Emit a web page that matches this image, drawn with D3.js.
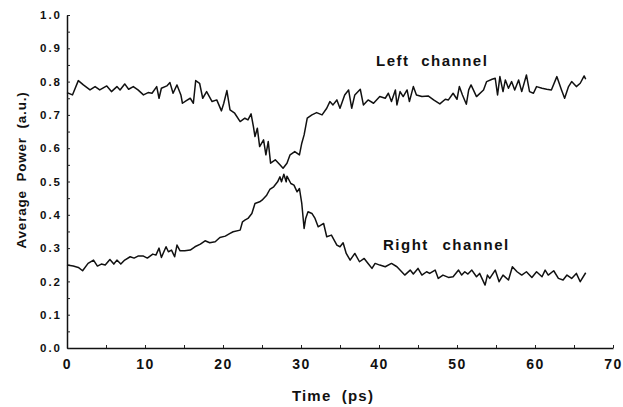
<!DOCTYPE html>
<meta charset="utf-8">
<style>
    body { margin: 0; background: #fff; }
    .chart text {
        font-family: "Liberation Sans", Arial, sans-serif;
        font-weight: bold;
        fill: #111;
    }
    .line { fill: none; stroke: #111; stroke-width: 1.5; stroke-linejoin: round; }
</style>
<svg class="chart" width="623" height="407"></svg>
<script src="https://cdn.jsdelivr.net/npm/d3@7"></script>
<script>
    // values (time in ps, average power in a.u.)
    const leftTime = [0, 0.7, 1.45, 2.1, 2.95, 3.6, 4.2, 5.1, 5.7, 6.4, 6.8, 7.4, 7.9, 8.5, 9.1, 9.8,
        10.4, 10.9, 11.5, 11.8, 12.1, 12.8, 13.2, 13.6, 14.1, 14.6, 14.8, 15.3, 15.8, 16.2, 16.5, 17.0,
        17.4, 17.9, 18.6, 19.2, 19.8, 20.1, 20.5, 20.9, 21.5, 22.2, 22.8, 23.2, 23.6, 23.9, 24.1, 24.4,
        24.7, 25.2, 25.5, 25.8, 26.1, 26.7, 27.3, 27.7, 28.2, 28.6, 29.2, 29.8, 30.1, 30.4, 30.8, 31.4,
        32.0, 32.7, 33.3, 33.7, 34.1, 34.6, 35.0, 35.6, 36.1, 36.5, 36.9, 37.6, 38.0, 38.6, 39.3, 40.1,
        40.8, 41.2, 41.6, 42.1, 42.3, 42.7, 43.1, 43.6, 43.9, 44.4, 44.8, 45.5, 46.3, 47.0, 47.8, 48.5,
        48.9, 49.5, 50.0, 50.3, 50.7, 51.2, 51.5, 51.8, 52.5, 53.4, 53.8, 54.5, 54.9, 55.2, 55.5, 55.9,
        56.2, 56.6, 57.0, 57.4, 57.9, 58.3, 58.9, 59.3, 59.8, 60.2, 60.9, 61.5, 62.1, 62.8, 63.4, 63.8,
        64.3, 64.7, 65.3, 65.8, 66.3, 66.5];
    const leftPower = [0.767, 0.760, 0.803, 0.790, 0.775, 0.785, 0.775, 0.787, 0.770, 0.785, 0.775, 0.793, 0.777, 0.785, 0.775, 0.760,
        0.767, 0.765, 0.785, 0.750, 0.780, 0.787, 0.797, 0.765, 0.790, 0.760, 0.735, 0.743, 0.750, 0.735, 0.803, 0.795,
        0.750, 0.770, 0.740, 0.745, 0.712, 0.735, 0.773, 0.715, 0.705, 0.680, 0.690, 0.685, 0.703, 0.665, 0.635, 0.660,
        0.605, 0.625, 0.580, 0.620, 0.555, 0.565, 0.550, 0.540, 0.555, 0.580, 0.590, 0.580, 0.615, 0.640, 0.690, 0.700,
        0.707, 0.700, 0.720, 0.740, 0.730, 0.745, 0.720, 0.760, 0.775, 0.720, 0.760, 0.777, 0.730, 0.745, 0.735, 0.755,
        0.750, 0.765, 0.740, 0.775, 0.730, 0.770, 0.755, 0.775, 0.740, 0.785, 0.760, 0.755, 0.757, 0.745, 0.733, 0.747,
        0.745, 0.765, 0.747, 0.785, 0.760, 0.732, 0.775, 0.790, 0.755, 0.775, 0.800, 0.807, 0.810, 0.760, 0.815, 0.770,
        0.805, 0.780, 0.800, 0.775, 0.805, 0.770, 0.820, 0.770, 0.765, 0.785, 0.780, 0.777, 0.775, 0.815, 0.775, 0.750,
        0.785, 0.800, 0.785, 0.795, 0.817, 0.807];

    const rightTime = [0, 0.8, 1.45, 2.0, 2.7, 3.4, 3.9, 4.4, 4.9, 5.5, 6.0, 6.4, 6.9, 7.4, 8.1, 8.6,
        9.1, 9.8, 10.3, 11.0, 11.4, 11.8, 12.1, 12.7, 13.0, 13.4, 13.8, 14.1, 14.5, 15.1, 15.8, 16.4,
        17.1, 17.7, 18.3, 19.0, 19.6, 20.3, 20.9, 21.3, 22.2, 22.5, 22.8, 23.2, 23.7, 24.1, 24.7, 25.0,
        25.6, 26.0, 26.5, 27.0, 27.3, 27.5, 27.8, 28.1, 28.2, 28.7, 29.1, 29.5, 29.8, 30.1, 30.4, 30.6,
        30.9, 31.4, 31.8, 32.2, 32.9, 33.3, 33.9, 34.6, 35.0, 35.4, 35.8, 36.3, 36.9, 37.5, 38.1, 38.6,
        39.1, 39.5, 40.1, 40.8, 41.6, 42.3, 43.3, 44.0, 44.4, 45.0, 45.5, 46.1, 46.5, 47.2, 47.6, 48.2,
        48.9, 49.5, 50.2, 50.6, 51.0, 51.4, 51.9, 52.5, 52.9, 53.6, 53.9, 54.2, 54.9, 55.4, 55.9, 56.6,
        57.1, 57.7, 58.3, 58.9, 59.6, 60.2, 60.9, 61.3, 61.7, 62.4, 63.0, 63.6, 64.1, 64.7, 65.3, 65.8,
        66.5];
    const rightPower = [0.249, 0.246, 0.242, 0.232, 0.254, 0.264, 0.246, 0.252, 0.249, 0.266, 0.252, 0.264, 0.252, 0.264, 0.274, 0.270,
        0.276, 0.276, 0.270, 0.282, 0.279, 0.300, 0.272, 0.304, 0.289, 0.294, 0.274, 0.309, 0.292, 0.292, 0.294, 0.304,
        0.312, 0.322, 0.316, 0.319, 0.332, 0.336, 0.344, 0.349, 0.354, 0.379, 0.384, 0.389, 0.404, 0.434, 0.439, 0.444,
        0.459, 0.476, 0.484, 0.499, 0.514, 0.499, 0.522, 0.499, 0.516, 0.494, 0.489, 0.469, 0.479, 0.434, 0.359, 0.389,
        0.409, 0.404, 0.389, 0.364, 0.374, 0.334, 0.339, 0.309, 0.304, 0.316, 0.284, 0.264, 0.284, 0.259, 0.269, 0.254,
        0.239, 0.254, 0.249, 0.244, 0.254, 0.244, 0.219, 0.234, 0.222, 0.239, 0.219, 0.229, 0.224, 0.234, 0.209, 0.219,
        0.212, 0.214, 0.234, 0.219, 0.229, 0.222, 0.234, 0.214, 0.224, 0.189, 0.219, 0.209, 0.234, 0.199, 0.219, 0.204,
        0.244, 0.229, 0.219, 0.229, 0.212, 0.229, 0.214, 0.234, 0.219, 0.232, 0.209, 0.204, 0.219, 0.209, 0.224, 0.199,
        0.226];

    const xTicks = [0, 10, 20, 30, 40, 50, 60, 70];
    const yTicks = [0, 0.1, 0.2, 0.3, 0.4, 0.5, 0.6, 0.7, 0.8, 0.9, 1.0];

    const plotLeft = 67, plotRight = 613, plotTop = 15, plotBottom = 348;

    const svg = d3.select(".chart");

    const x = d3.scaleLinear().domain([0, 70]).range([plotLeft, plotRight]);
    const y = d3.scaleLinear().domain([0, 1]).range([plotBottom, plotTop]);

    // small ticks (every 5 ps / 0.05), pointing inside
    svg.append("g")
        .attr("transform", `translate(0,${plotBottom})`)
        .call(d3.axisBottom(x).tickValues(d3.range(0, 71, 5)).tickSizeInner(-3).tickSizeOuter(0).tickFormat(""))
        .call(g => g.selectAll("line").attr("stroke", "#222"))
        .call(g => g.select(".domain").attr("stroke", "#111").attr("stroke-width", 1.3));

    svg.append("g")
        .attr("transform", `translate(${plotLeft},0)`)
        .call(d3.axisLeft(y).tickValues(d3.range(0, 1.01, 0.05)).tickSizeInner(-3).tickSizeOuter(0).tickFormat(""))
        .call(g => g.selectAll("line").attr("stroke", "#222"))
        .call(g => g.select(".domain").attr("stroke", "#111").attr("stroke-width", 1.5));

    // labelled ticks
    svg.append("g")
        .attr("transform", `translate(0,${plotBottom})`)
        .call(d3.axisBottom(x).tickValues(xTicks).tickSize(0).tickPadding(11).tickFormat(d3.format("d")))
        .call(g => g.select(".domain").remove())
        .call(g => g.selectAll("text")
            .style("font-size", "14px")
            .style("letter-spacing", "1.5px")
            .style("font-family", "'Liberation Sans', Arial, sans-serif")
            .style("font-weight", "bold"));

    svg.append("g")
        .attr("transform", `translate(${plotLeft},0)`)
        .call(d3.axisLeft(y).tickValues(yTicks).tickSize(0).tickPadding(5).tickFormat(d3.format(".1f")))
        .call(g => g.select(".domain").remove())
        .call(g => g.selectAll("text")
            .style("font-size", "11.5px")
            .style("letter-spacing", "2px")
            .style("font-family", "'Liberation Sans', Arial, sans-serif")
            .style("font-weight", "bold"));

    const line = d3.line()
        .x(d => x(d[0]))
        .y(d => y(d[1]));

    svg.append("path")
        .datum(d3.zip(leftTime, leftPower))
        .attr("class", "line")
        .attr("d", line);

    svg.append("path")
        .datum(d3.zip(rightTime, rightPower))
        .attr("class", "line")
        .attr("d", line);

    svg.append("text")
        .attr("x", 376).attr("y", 66)
        .style("font-size", "15px")
        .style("letter-spacing", "1.5px")
        .style("word-spacing", "6px")
        .text("Left channel");

    svg.append("text")
        .attr("x", 383).attr("y", 250)
        .style("font-size", "15px")
        .style("letter-spacing", "1.5px")
        .style("word-spacing", "8px")
        .text("Right channel");

    svg.append("text")
        .attr("x", 333).attr("y", 401)
        .attr("text-anchor", "middle")
        .style("font-size", "15px")
        .style("letter-spacing", "1.2px")
        .style("word-spacing", "5px")
        .text("Time (ps)");

    svg.append("text")
        .attr("transform", "translate(26,170) rotate(-90)")
        .attr("text-anchor", "middle")
        .style("font-size", "13.5px")
        .style("letter-spacing", "0.8px")
        .style("word-spacing", "4px")
        .text("Average Power (a.u.)");
</script>
